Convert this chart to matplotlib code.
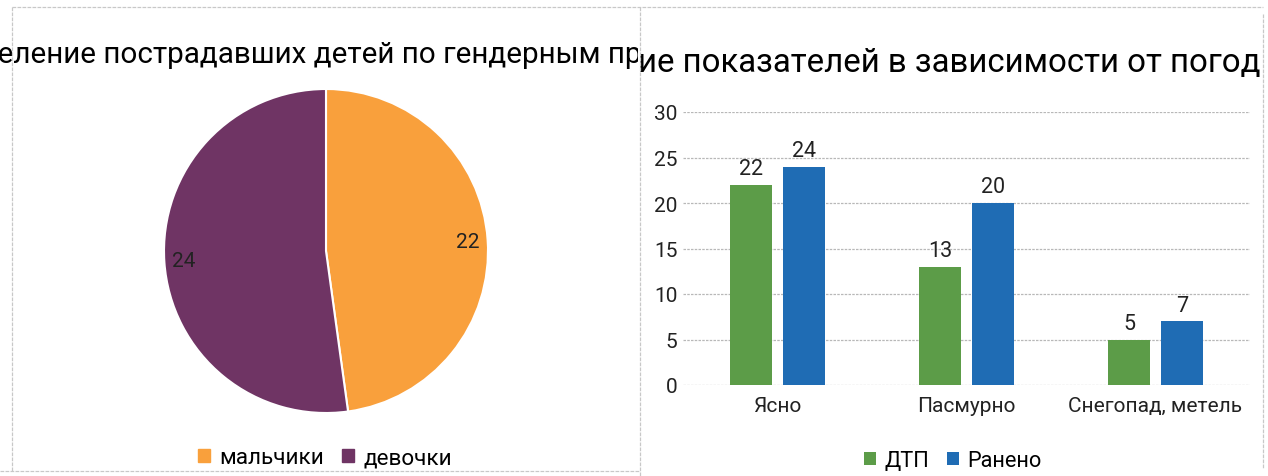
import matplotlib.pyplot as plt
from matplotlib.patches import Patch
from matplotlib.lines import Line2D

plt.rcParams['font.family'] = ['Roboto', 'DejaVu Sans']

# ---- data ----
gender_labels = ['мальчики', 'девочки']
gender_values = [22, 24]
gender_colors = ['#F9A03C', '#6F3464']
pie_title = 'Распределение пострадавших детей по гендерным признакам'

weather = ['Ясно', 'Пасмурно', 'Снегопад, метель']
dtp = [22, 13, 5]
injured = [24, 20, 7]
series_names = ['ДТП', 'Ранено']
series_colors = ['#5C9C48', '#1F6CB4']
bar_title = 'Распределение показателей в зависимости от погодных условий'

W, H = 1268, 477
fig = plt.figure(figsize=(W / 100, H / 100), dpi=100)

def box(x0, y0, x1, y1):
    # pixel box (top-left origin) -> figure fraction rect
    return [x0 / W, 1 - y1 / H, (x1 - x0) / W, (y1 - y0) / H]

# ---- panel borders ----
grey = '#c8c8c8'
for xs, ys in [([12, 1263], [8, 8]), ([12, 12], [8, 472]), ([640, 640], [8, 477]),
               ([0, 640], [472, 472]), ([1263, 1263], [15, 470])]:
    fig.add_artist(Line2D([x / W for x in xs], [1 - y / H for y in ys],
                          color=grey, lw=0.9, ls=(0, (3, 1))))

# ---- clipped titles (overflow their panels, as in the scan) ----
tl = fig.add_axes(box(0, 0, 638, 100))
tl.axis('off')
tl.text(320 / 638, 1 - 63 / 100, pie_title, ha='center', va='baseline',
        fontsize=21.3, clip_on=True, transform=tl.transAxes)
tr = fig.add_axes(box(638, 0, 1263, 100))
tr.axis('off')
tr.text((946 - 638) / 625, 1 - 72 / 100, bar_title, ha='center', va='baseline',
        fontsize=23.8, clip_on=True, transform=tr.transAxes)

# ---- pie ----
cx, cy, r = 326, 252, 162
ax1 = fig.add_axes(box(cx - r, cy - r, cx + r, cy + r))
ax1.pie(gender_values, colors=gender_colors, startangle=90, counterclock=False,
        autopct=lambda p: '%d' % round(p * sum(gender_values) / 100),
        pctdistance=0.88, textprops={'fontsize': 15, 'color': '#222222'},
        wedgeprops={'edgecolor': 'white', 'linewidth': 1.5})
ax1.set_xlim(-1, 1)
ax1.set_ylim(-1, 1)
ax1.set_aspect('equal')

fig.legend(handles=[Patch(color=c, label=l) for c, l in zip(gender_colors, gender_labels)],
           loc='center', bbox_to_anchor=(325 / W, 1 - 459 / H), ncol=2, frameon=False,
           fontsize=16.2, handlelength=0.55, handleheight=0.55, handletextpad=0.4,
           columnspacing=0.8)

# ---- bars ----
ax2 = fig.add_axes(box(683, 113, 1250, 386))
x = range(len(weather))
w = 0.22
off = 0.14
b1 = ax2.bar([i - off for i in x], dtp, w, color=series_colors[0], label=series_names[0])
b2 = ax2.bar([i + off for i in x], injured, w, color=series_colors[1], label=series_names[1])
for bars in (b1, b2):
    ax2.bar_label(bars, padding=4, fontsize=15.5, color='#222222')
ax2.set_xlim(-0.5, 2.5)
ax2.set_ylim(0, 30)
ax2.set_yticks(range(0, 31, 5))
ax2.set_xticks(list(x))
ax2.set_xticklabels(weather)
ax2.tick_params(length=0, labelsize=15, colors='#222222')
ax2.tick_params(axis='x', pad=8)
ax2.tick_params(axis='y', pad=4)
for s in ax2.spines.values():
    s.set_visible(False)
ax2.grid(axis='y', color='#b8b8b8', lw=0.9, ls=(0, (2, 1)))
ax2.set_axisbelow(True)

fig.legend(handles=[b1, b2], loc='center', bbox_to_anchor=(953 / W, 1 - 462 / H),
           ncol=2, frameon=False, fontsize=15.7, handlelength=0.55, handleheight=0.55,
           handletextpad=0.4, columnspacing=0.8)

fig.savefig('out.png', dpi=100)
